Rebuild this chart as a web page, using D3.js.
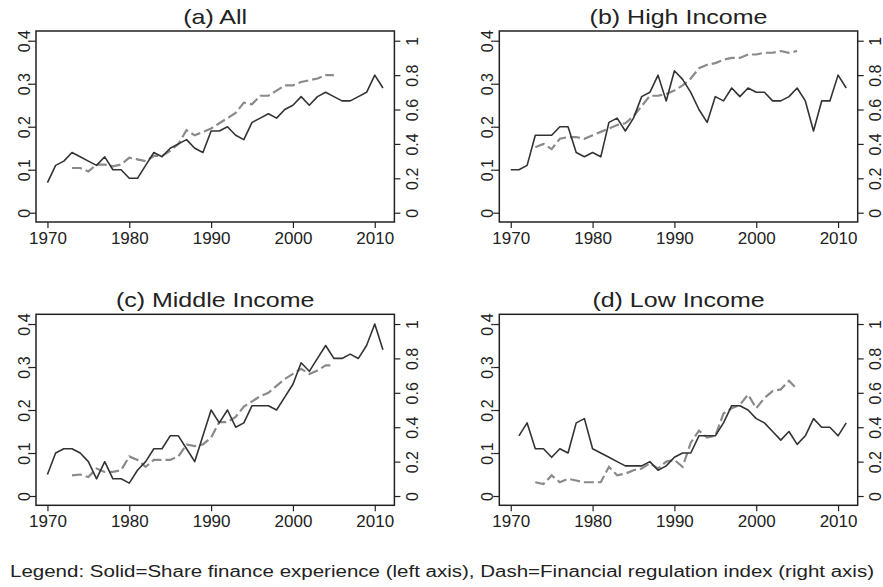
<!DOCTYPE html>
<html>
<head>
<meta charset="utf-8">
<script src="https://cdn.jsdelivr.net/npm/d3@7"></script>
<style>
  body { margin: 0; background: #fff; }
  svg { display: block; font-family: "Liberation Sans", Arial, sans-serif; }
</style>
</head>
<body>
<div id="chart"></div>
<script>
// years for the solid series (share finance experience) and dashed series (regulation index)
const shareYears = d3.range(1970, 2012);
const lowShareYears = d3.range(1971, 2012);
const indexYears = d3.range(1973, 2006);

const allShare = [0.07, 0.11, 0.12, 0.14, 0.13, 0.12, 0.11, 0.13, 0.10, 0.10, 0.08, 0.08, 0.11, 0.14, 0.13, 0.15, 0.16, 0.17, 0.15, 0.14,
  0.19, 0.19, 0.20, 0.18, 0.17, 0.21, 0.22, 0.23, 0.22, 0.24, 0.25, 0.27, 0.25, 0.27, 0.28, 0.27, 0.26, 0.26, 0.27, 0.28, 0.32, 0.29];
const allIndex = [0.26, 0.26, 0.24, 0.28, 0.28, 0.27, 0.28, 0.32, 0.31, 0.30, 0.33, 0.33, 0.36, 0.40, 0.48, 0.45, 0.47,
  0.49, 0.52, 0.55, 0.58, 0.64, 0.63, 0.68, 0.68, 0.71, 0.74, 0.74, 0.76, 0.77, 0.78, 0.80, 0.80];

const highShare = [0.10, 0.10, 0.11, 0.18, 0.18, 0.18, 0.20, 0.20, 0.14, 0.13, 0.14, 0.13, 0.21, 0.22, 0.19, 0.22, 0.27, 0.28, 0.32, 0.26,
  0.33, 0.31, 0.28, 0.24, 0.21, 0.27, 0.26, 0.29, 0.27, 0.29, 0.28, 0.28, 0.26, 0.26, 0.27, 0.29, 0.26, 0.19, 0.26, 0.26, 0.32, 0.29];
const highIndex = [0.38, 0.40, 0.37, 0.43, 0.44, 0.44, 0.43, 0.45, 0.47, 0.49, 0.51, 0.52, 0.56, 0.62, 0.68, 0.68, 0.69,
  0.71, 0.74, 0.78, 0.84, 0.86, 0.87, 0.89, 0.90, 0.90, 0.92, 0.92, 0.93, 0.93, 0.94, 0.93, 0.94];

const midShare = [0.05, 0.10, 0.11, 0.11, 0.10, 0.08, 0.04, 0.08, 0.04, 0.04, 0.03, 0.06, 0.08, 0.11, 0.11, 0.14, 0.14, 0.11, 0.08, 0.14,
  0.20, 0.17, 0.20, 0.16, 0.17, 0.21, 0.21, 0.21, 0.20, 0.23, 0.26, 0.31, 0.29, 0.32, 0.35, 0.32, 0.32, 0.33, 0.32, 0.35, 0.40, 0.34];
const midIndex = [0.12, 0.125, 0.11, 0.16, 0.14, 0.14, 0.15, 0.23, 0.21, 0.17, 0.21, 0.21, 0.21, 0.23, 0.30, 0.29, 0.30,
  0.34, 0.43, 0.43, 0.46, 0.52, 0.55, 0.58, 0.60, 0.64, 0.68, 0.71, 0.74, 0.71, 0.73, 0.76, 0.76];

const lowShare = [0.14, 0.17, 0.11, 0.11, 0.09, 0.11, 0.10, 0.17, 0.18, 0.11, 0.10, 0.09, 0.08, 0.07, 0.07, 0.07, 0.08, 0.06, 0.07,
  0.09, 0.10, 0.10, 0.14, 0.14, 0.14, 0.17, 0.21, 0.21, 0.20, 0.18, 0.17, 0.15, 0.13, 0.15, 0.12, 0.14, 0.18, 0.16, 0.16, 0.14, 0.17];
const lowIndex = [0.08, 0.07, 0.12, 0.08, 0.10, 0.09, 0.08, 0.08, 0.08, 0.17, 0.12, 0.13, 0.15, 0.16, 0.19, 0.16, 0.20,
  0.21, 0.17, 0.31, 0.38, 0.34, 0.35, 0.48, 0.51, 0.53, 0.59, 0.51, 0.57, 0.61, 0.62, 0.67, 0.62];

const titles = ["(a) All", "(b) High Income", "(c) Middle Income", "(d) Low Income"];
const xTicks = [1970, 1980, 1990, 2000, 2010];
const leftTicks = [0, 0.1, 0.2, 0.3, 0.4];
const rightTicks = [0, 0.2, 0.4, 0.6, 0.8, 1];
const legendText = "Legend: Solid=Share finance experience (left axis), Dash=Financial regulation index (right axis)";

const panels = [
  { title: titles[0], sy: shareYears, share: allShare, index: allIndex, left: 36, top: 31 },
  { title: titles[1], sy: shareYears, share: highShare, index: highIndex, left: 499.3, top: 31 },
  { title: titles[2], sy: shareYears, share: midShare, index: midIndex, left: 36, top: 314.3 },
  { title: titles[3], sy: lowShareYears, share: lowShare, index: lowIndex, left: 499.3, top: 314.3 }
];

const width = 883, height = 587;
const pw = 358.4, ph = 191;
const ink = "#222";

const svg = d3.select("#chart").append("svg")
  .attr("width", width)
  .attr("height", height);

const x = d3.scaleLinear().domain([1968.6, 2012.4]).range([0, pw]);
const yL = d3.scaleLinear().domain([-0.0216, 0.4226]).range([ph, 0]);
const yR = d3.scaleLinear().domain([-0.054, 1.0565]).range([ph, 0]);

panels.forEach((p) => {
  const g = svg.append("g").attr("transform", `translate(${p.left},${p.top})`);

  // lines
  const shareLine = d3.line().x((d) => x(d[0])).y((d) => yL(d[1]));
  const indexLine = d3.line().x((d) => x(d[0])).y((d) => yR(d[1]));

  g.append("path")
    .datum(d3.zip(indexYears, p.index))
    .attr("d", indexLine)
    .attr("fill", "none")
    .attr("stroke", "#8a8a8a")
    .attr("stroke-width", 2.2)
    .attr("stroke-dasharray", "10,4");

  g.append("path")
    .datum(d3.zip(p.sy, p.share))
    .attr("d", shareLine)
    .attr("fill", "none")
    .attr("stroke", "#333")
    .attr("stroke-width", 1.6)
    .attr("stroke-linejoin", "round");

  // box
  g.append("rect")
    .attr("width", pw).attr("height", ph)
    .attr("fill", "none")
    .attr("stroke", ink)
    .attr("stroke-width", 1.5);

  // bottom axis
  const xa = g.append("g").attr("transform", `translate(0,${ph})`)
    .call(d3.axisBottom(x).tickValues(xTicks).tickFormat(d3.format("d")).tickSize(6).tickPadding(4));
  xa.select(".domain").remove();
  xa.selectAll("line").attr("stroke", ink).attr("stroke-width", 1.2);
  xa.selectAll("text").attr("fill", ink).style("font-size", "17px");

  // left axis
  const la = g.append("g")
    .call(d3.axisLeft(yL).tickValues(leftTicks).tickFormat((d) => d === 0 ? "0" : d3.format(".1f")(d)).tickSize(6));
  la.select(".domain").remove();
  la.selectAll("line").attr("stroke", ink).attr("stroke-width", 1.2);
  la.selectAll("text")
    .attr("fill", ink).style("font-size", "16px")
    .attr("x", null).attr("dy", null)
    .attr("text-anchor", "middle")
    .attr("transform", "translate(-6.5,0) rotate(-90)");

  // right axis
  const ra = g.append("g").attr("transform", `translate(${pw},0)`)
    .call(d3.axisRight(yR).tickValues(rightTicks).tickFormat((d) => d === 0 || d === 1 ? String(d) : d3.format(".1f")(d)).tickSize(6));
  ra.select(".domain").remove();
  ra.selectAll("line").attr("stroke", ink).attr("stroke-width", 1.2);
  ra.selectAll("text")
    .attr("fill", ink).style("font-size", "16px")
    .attr("x", null).attr("dy", null)
    .attr("text-anchor", "middle")
    .attr("transform", "translate(23.5,0) rotate(-90)");

  // title, slightly widened to match the reference lettering
  const t = g.append("text")
    .attr("x", pw / 2)
    .attr("y", -7)
    .attr("text-anchor", "middle")
    .attr("fill", ink)
    .style("font-size", "21px")
    .text(p.title);
  t.attr("textLength", t.node().getComputedTextLength() * 1.19)
    .attr("lengthAdjust", "spacingAndGlyphs");
});

svg.append("text")
  .attr("x", 10)
  .attr("y", 577)
  .attr("fill", ink)
  .style("font-size", "16px")
  .attr("textLength", 864)
  .attr("lengthAdjust", "spacingAndGlyphs")
  .text(legendText);
</script>
</body>
</html>
